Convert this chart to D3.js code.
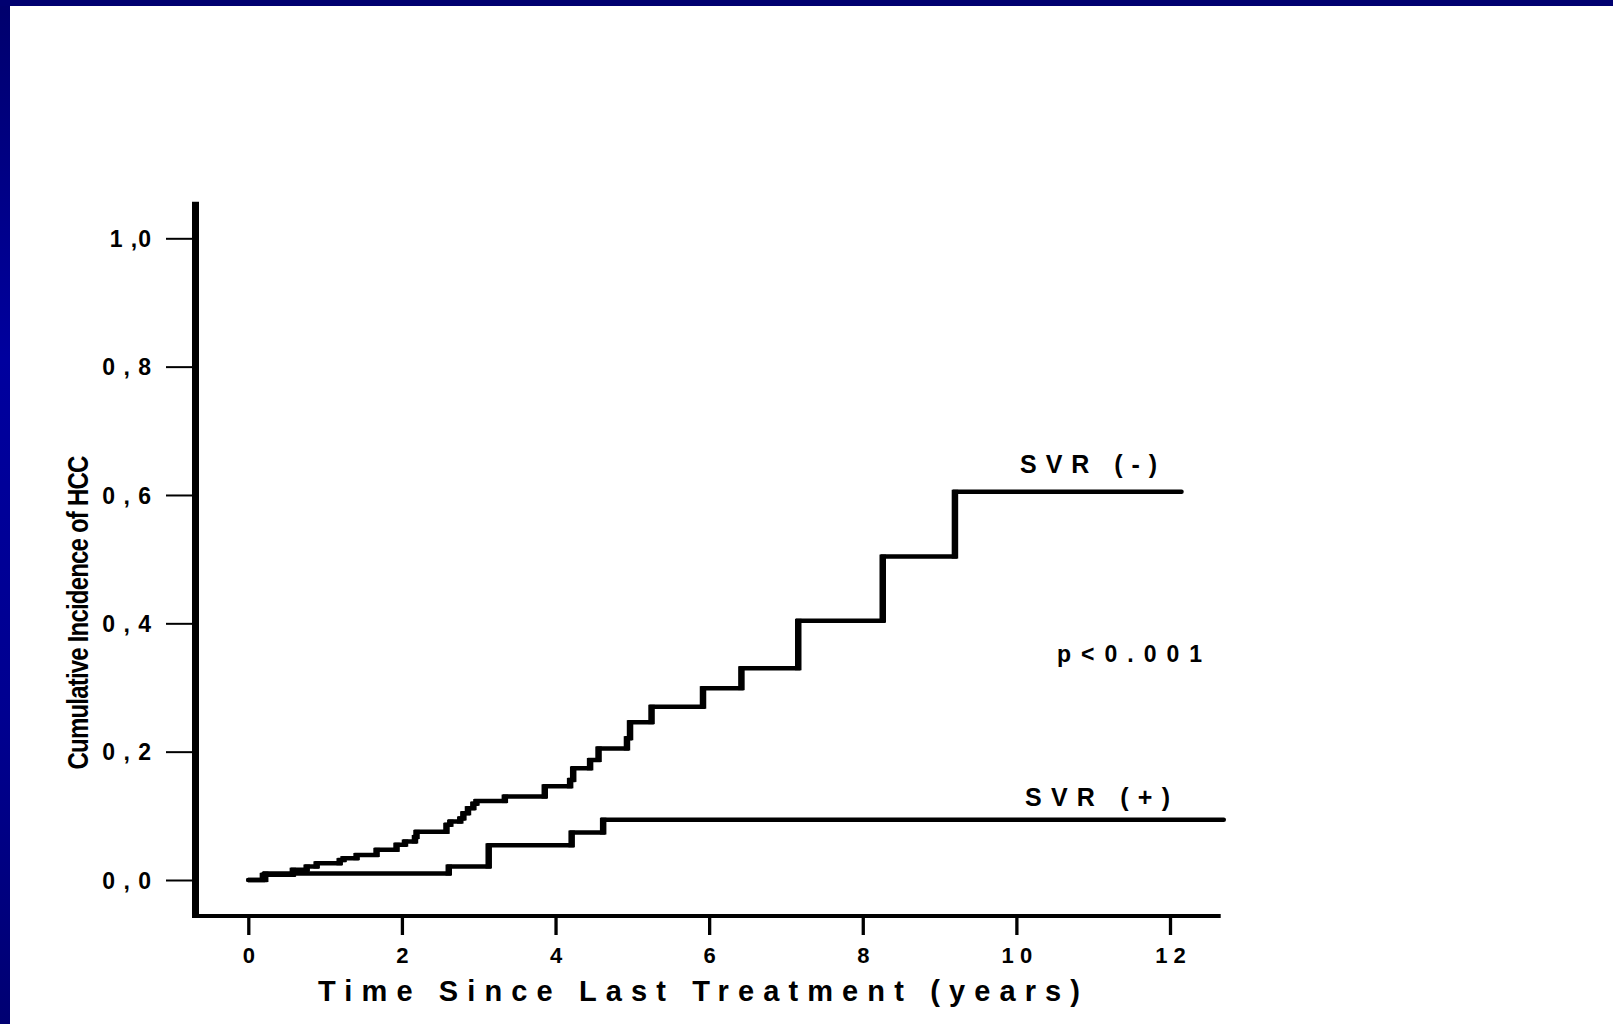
<!DOCTYPE html>
<html>
<head>
<meta charset="utf-8">
<script src="https://cdn.jsdelivr.net/npm/d3@7"></script>
<style>
  body { margin: 0; background: #fff; }
  svg { display: block; }
</style>
</head>
<body>
<div id="chart"></div>
<script>
// data (years, cumulative incidence)
const svrNegTimes  = [0, 0.19, 0.58, 0.76, 0.89, 1.19, 1.24, 1.41, 1.67, 1.93, 2.04, 2.17, 2.19, 2.58, 2.63, 2.76, 2.80, 2.86, 2.93, 2.97, 3.34, 3.86, 4.19, 4.23, 4.45, 4.56, 4.93, 4.97, 5.25, 5.92, 6.42, 7.16, 8.26, 9.20];
const svrNegValues = [0, 0.008, 0.016, 0.021, 0.026, 0.031, 0.034, 0.039, 0.047, 0.055, 0.060, 0.067, 0.075, 0.086, 0.091, 0.096, 0.104, 0.112, 0.119, 0.123, 0.130, 0.146, 0.156, 0.174, 0.187, 0.205, 0.221, 0.246, 0.270, 0.299, 0.330, 0.404, 0.504, 0.605];
const svrNegEnd = 12.15;

const svrPosTimes  = [0, 0.22, 2.61, 3.13, 4.21, 4.62];
const svrPosValues = [0, 0.010, 0.021, 0.054, 0.074, 0.094];
const svrPosEnd = 12.7;

const xTicks = [0, 2, 4, 6, 8, 10, 12];
const xTickLabels = ["0", "2", "4", "6", "8", "1 0", "1 2"];
const yTicks = [0, 0.2, 0.4, 0.6, 0.8, 1.0];
const yTickLabels = ["0 , 0", "0 , 2", "0 , 4", "0 , 6", "0 , 8", "1 ,0"];

const xTitle = "Time Since Last Treatment (years)";
const yTitle = "Cumulative Incidence of HCC";
const pText = "p<0.001";

const W = 1613, H = 1024;
const font = "'Liberation Sans', Arial, sans-serif";

const svg = d3.select('#chart').append('svg')
  .attr('width', W).attr('height', H);

// slide frame
const defs = svg.append('defs');
const grad = defs.append('linearGradient').attr('id', 'leftbar')
  .attr('x1', 0).attr('y1', 0).attr('x2', 0).attr('y2', 1);
grad.append('stop').attr('offset', '0%').attr('stop-color', '#00006c');
grad.append('stop').attr('offset', '35%').attr('stop-color', '#00009e');
grad.append('stop').attr('offset', '70%').attr('stop-color', '#000090');
grad.append('stop').attr('offset', '100%').attr('stop-color', '#000072');

svg.append('rect').attr('width', W).attr('height', H).attr('fill', '#fff');
svg.append('rect').attr('x', 0).attr('y', 0).attr('width', 10).attr('height', H).attr('fill', 'url(#leftbar)');
svg.append('rect').attr('x', 0).attr('y', 0).attr('width', W).attr('height', 6).attr('fill', '#000070');

// scales
const x = d3.scaleLinear().domain([0, 12]).range([248.3, 1170]);
const y = d3.scaleLinear().domain([0, 1]).range([880, 238.3]);

// axis lines
svg.append('line')
  .attr('x1', 195.5).attr('x2', 195.5)
  .attr('y1', y(1.057)).attr('y2', y(-0.058))
  .attr('stroke', '#000').attr('stroke-width', 7);
svg.append('line')
  .attr('x1', 192).attr('x2', x(12.66))
  .attr('y1', 916).attr('y2', 916)
  .attr('stroke', '#000').attr('stroke-width', 4);

// y axis ticks
const yAxis = svg.append('g')
  .attr('transform', 'translate(192,0)')
  .call(d3.axisLeft(y).tickValues(yTicks).tickSize(26).tickPadding(14)
    .tickFormat((d, i) => yTickLabels[i]));
yAxis.select('.domain').remove();
yAxis.selectAll('line').attr('stroke', '#000').attr('stroke-width', 2);
yAxis.selectAll('text')
  .attr('font-family', font).attr('font-size', 23).attr('font-weight', 'bold')
  .attr('letter-spacing', 1)
  .attr('fill', '#000').attr('dy', '0.36em');

// x axis ticks
const xAxis = svg.append('g')
  .attr('transform', 'translate(0,916)')
  .call(d3.axisBottom(x).tickValues(xTicks).tickSize(19)
    .tickFormat((d, i) => xTickLabels[i]));
xAxis.select('.domain').remove();
xAxis.selectAll('line').attr('stroke', '#000').attr('stroke-width', 3.3);
xAxis.selectAll('text')
  .attr('font-family', font).attr('font-size', 22).attr('font-weight', 'bold')
  .attr('fill', '#000').attr('y', 47).attr('dy', 0);

// curves
function stepData(times, values, end) {
  const pts = times.map((t, i) => ({t: t, v: values[i]}));
  pts.push({t: end, v: values[values.length - 1]});
  return pts;
}
function risers(times, values) {
  return times.slice(1).map((t, i) => ({t: t, v0: values[i], v1: values[i + 1]}));
}

const line = d3.line()
  .x(d => x(d.t))
  .y(d => y(d.v))
  .curve(d3.curveStepAfter);

[[svrNegTimes, svrNegValues, svrNegEnd], [svrPosTimes, svrPosValues, svrPosEnd]].forEach(s => {
  svg.append('path')
    .datum(stepData(s[0], s[1], s[2]))
    .attr('d', line)
    .attr('fill', 'none')
    .attr('stroke', '#000')
    .attr('stroke-width', 4.5)
    .attr('stroke-linecap', 'round');
  svg.append('g').selectAll('line')
    .data(risers(s[0], s[1]))
    .enter().append('line')
    .attr('x1', d => x(d.t)).attr('x2', d => x(d.t))
    .attr('y1', d => y(d.v0) + 2).attr('y2', d => y(d.v1) - 2)
    .attr('stroke', '#000').attr('stroke-width', 6.5);
});

// labels
function label(txt, xPos, yPos, size, len) {
  svg.append('text')
    .attr('x', xPos).attr('y', yPos)
    .attr('font-family', font).attr('font-size', size).attr('font-weight', 'bold')
    .attr('textLength', len).attr('lengthAdjust', 'spacing')
    .attr('fill', '#000')
    .text(txt);
}
label('SVR (-)', 1020, 473, 25, 137);
label('SVR (+)', 1025, 806, 25, 145);
label(pText, 1057, 662, 23, 145);
label(xTitle, 318, 1001, 29, 762);

svg.append('text')
  .attr('transform', 'translate(88,613) rotate(-90)')
  .attr('text-anchor', 'middle')
  .attr('font-family', "'Liberation Sans Narrow', 'Arial Narrow', 'Liberation Sans', sans-serif")
  .attr('font-size', 29)
  .attr('font-weight', 'bold')
  .attr('letter-spacing', -1)
  .attr('textLength', 313).attr('lengthAdjust', 'spacingAndGlyphs')
  .attr('fill', '#000')
  .text(yTitle);
</script>
</body>
</html>
